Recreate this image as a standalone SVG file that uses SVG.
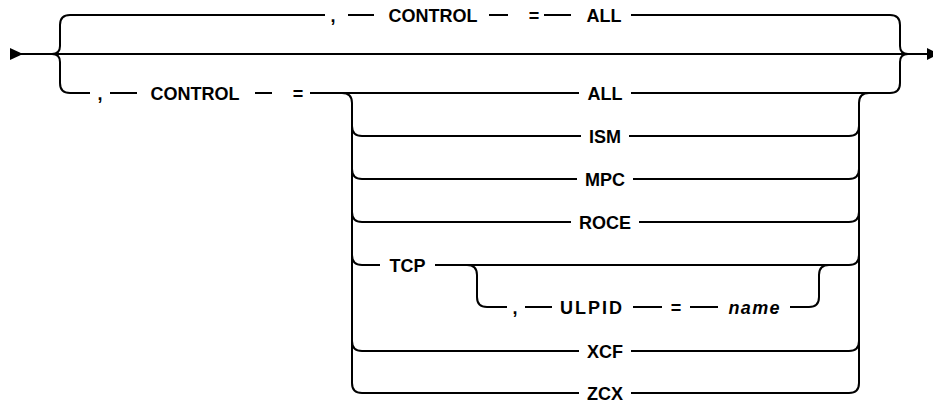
<svg xmlns="http://www.w3.org/2000/svg" width="933" height="402" viewBox="0 0 933 402">
<style>
.c{fill:none;stroke:#000;stroke-width:2}
.t{font-family:"Liberation Sans",Arial,sans-serif;font-size:18px;font-weight:bold;fill:#000;text-anchor:middle}
.i{font-style:italic}
.a{fill:#000}
</style>
<rect width="933" height="402" fill="#fff"/>
<g id="connectors">
<polygon class="a" points="10,48 23,54 10,60"/>
<polygon class="a" points="927,48 939,54 927,60"/>
<path class="c" d="M20,54 H927"/>
<path class="c" d="M52,54 Q60,54 60,46 V25 Q60,15 70,15 H325"/>
<path class="c" d="M52,54 Q60,54 60,62 V83 Q60,93 70,93 H90"/>
<path class="c" d="M348,15 H374 M489,15 H508 M544,15 H571 M631,15 H890 Q900,15 900,25 V46 Q900,54 908,54"/>
<path class="c" d="M110,93 H137 M255,93 H272 M310,93 H579 M631,93 H890 Q900,93 900,83 V62 Q900,54 908,54"/>
<path class="c" d="M342,93 Q352,93 352,103 V383 Q352,393 362,393 H579"/>
<path class="c" d="M352,126 Q352,136 362,136 H581 M629,136 H849 Q859,136 859,126"/>
<path class="c" d="M352,169 Q352,179 362,179 H577 M633,179 H849 Q859,179 859,169"/>
<path class="c" d="M352,212 Q352,222 362,222 H571 M639,222 H849 Q859,222 859,212"/>
<path class="c" d="M352,255 Q352,265 362,265 H380 M435,265 H849 Q859,265 859,255"/>
<path class="c" d="M352,341 Q352,351 362,351 H579 M631,351 H849 Q859,351 859,341"/>
<path class="c" d="M631,393 H849 Q859,393 859,383 V103 Q859,93 869,93"/>
<path class="c" d="M467,265 Q477,265 477,275 V297 Q477,307 487,307 H507 M525,307 H552 M633,307 H662 M690,307 H718 M790,307 H809 Q819,307 819,297 V275 Q819,265 829,265"/>
</g>
<g id="top-comma"><text class="t" x="333" y="21.5">,</text></g>
<g id="top-control"><text class="t" x="433" y="21.5">CONTROL</text></g>
<g id="top-eq"><text class="t" x="534" y="21.5">=</text></g>
<g id="top-all"><text class="t" x="604" y="21.5">ALL</text></g>
<g id="bot-comma"><text class="t" x="100" y="99.5">,</text></g>
<g id="bot-control"><text class="t" x="195" y="99.5">CONTROL</text></g>
<g id="bot-eq"><text class="t" x="298" y="99.5">=</text></g>
<g id="opt-all"><text class="t" x="605" y="99.5">ALL</text></g>
<g id="opt-ism"><text class="t" x="605" y="142.5">ISM</text></g>
<g id="opt-mpc"><text class="t" x="605" y="185.5">MPC</text></g>
<g id="opt-roce"><text class="t" x="605" y="228.5">ROCE</text></g>
<g id="opt-tcp"><text class="t" x="407.5" y="271.5">TCP</text></g>
<g id="ulpid-comma"><text class="t" x="515" y="313.5">,</text></g>
<g id="ulpid"><text class="t" x="591" y="313.5" textLength="62">ULPID</text></g>
<g id="ulpid-eq"><text class="t" x="676" y="313.5">=</text></g>
<g id="ulpid-name"><text class="t i" x="754" y="313.5" textLength="51">name</text></g>
<g id="opt-xcf"><text class="t" x="605" y="357.5">XCF</text></g>
<g id="opt-zcx"><text class="t" x="605" y="399.5">ZCX</text></g>
</svg>
